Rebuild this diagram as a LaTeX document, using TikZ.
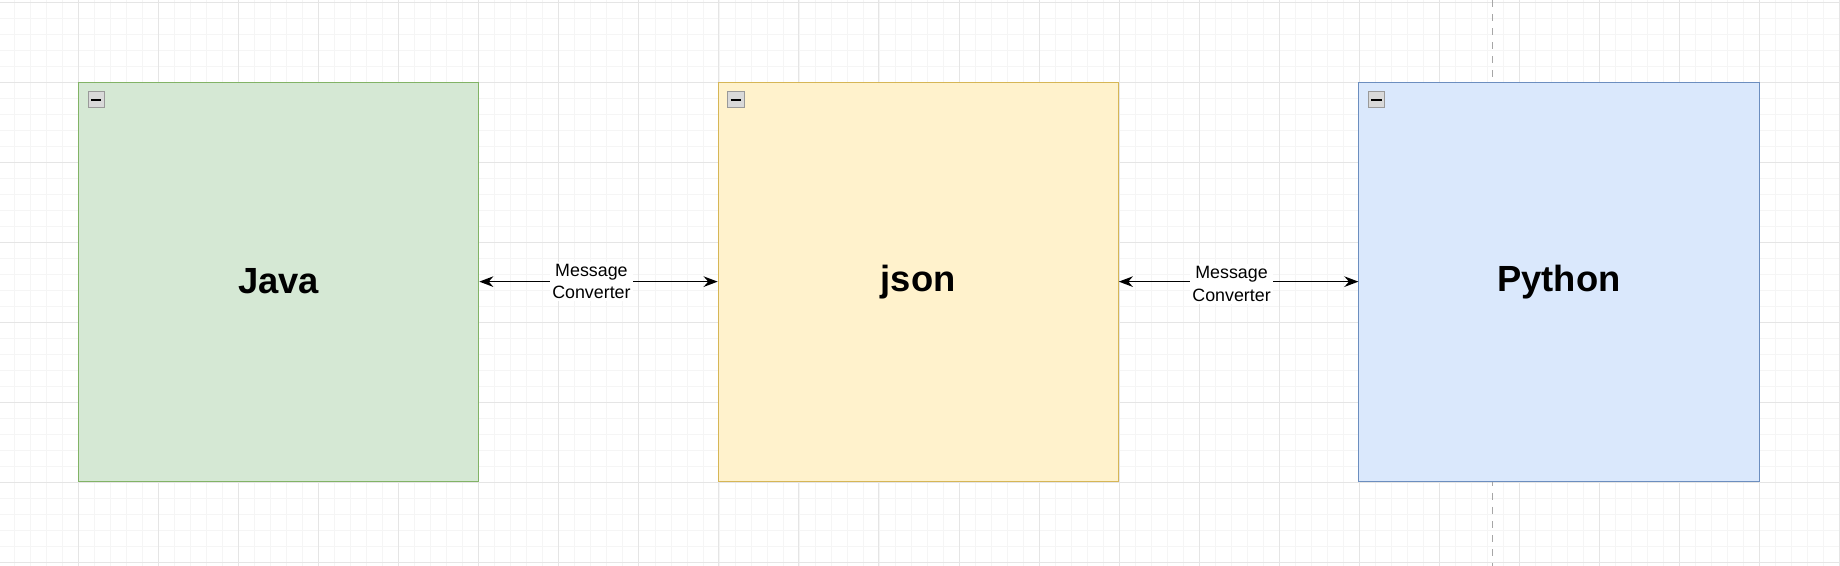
\documentclass[tikz,border=0pt]{standalone}
\usepackage{fontspec}
\setmainfont{Liberation Sans}
\usetikzlibrary{positioning, arrows.meta}
\definecolor{javafill}{HTML}{D5E8D4}\definecolor{javadraw}{HTML}{82B366}
\definecolor{jsonfill}{HTML}{FFF2CC}\definecolor{jsondraw}{HTML}{D6B656}
\definecolor{pyfill}{HTML}{DAE8FC}\definecolor{pydraw}{HTML}{6C8EBF}
\tikzset{
  langbox/.style={draw, minimum width=170.5pt, minimum height=170pt, inner sep=0pt,
    font=\fontsize{15.5}{18}\selectfont\bfseries},
  conv/.style={{Stealth[length=6pt]}-{Stealth[length=6pt]}, line width=0.7pt},
  convlabel/.style={fill=white, inner sep=1pt, align=center, font=\fontsize{7.6}{9.5}\selectfont},
  foldicon/.style={draw=gray!80, fill=gray!30, minimum size=7pt, inner sep=0pt}
}
\begin{document}
\begin{tikzpicture}[x=0.5pt, y=-0.5pt]
  \useasboundingbox (0,0) rectangle (1568,482);
  \fill[white] (0,0) rectangle (1568,482);
  % grid
  \foreach \i in {-5,...,115} {
    \draw[gray!8, line width=0.3pt] ({67+13.64*\i},0) -- ({67+13.64*\i},482);
    \draw[gray!8, line width=0.3pt] (0,{2+13.64*\i}) -- (1568,{2+13.64*\i});
  }
  \foreach \i in {-1,...,23} {
    \draw[gray!20, line width=0.4pt] ({67+68.2*\i},0) -- ({67+68.2*\i},482);
    \draw[gray!20, line width=0.4pt] (0,{2+68.2*\i}) -- (1568,{2+68.2*\i});
  }
  \draw[gray!70, dashed, line width=0.4pt] (1272,0) -- (1272,482);

  \node[langbox, fill=javafill, draw=javadraw] (java) at (237.5,240) {\raisebox{-2pt}{Java}};
  \node[langbox, fill=jsonfill, draw=jsondraw] (json) at (782.5,240) {\raisebox{-2pt}{json}};
  \node[langbox, fill=pyfill, draw=pydraw] (python) at (1328.5,240) {\raisebox{-2pt}{Python}};

  \foreach \b in {java, json, python} {
    \node[foldicon, below right=4pt and 4pt of \b.north west] (fold-\b) {};
    \draw[line width=0.8pt] ([xshift=1.5pt]fold-\b.west) -- ([xshift=-1.5pt]fold-\b.east);
  }

  \draw[conv] (java.east) -- node[convlabel, xshift=-3pt] {Message\\Converter} (json.west);
  \draw[conv] (json.east) -- node[convlabel, xshift=-3pt, yshift=-1pt] {Message\\Converter} (python.west);
\end{tikzpicture}
\end{document}
